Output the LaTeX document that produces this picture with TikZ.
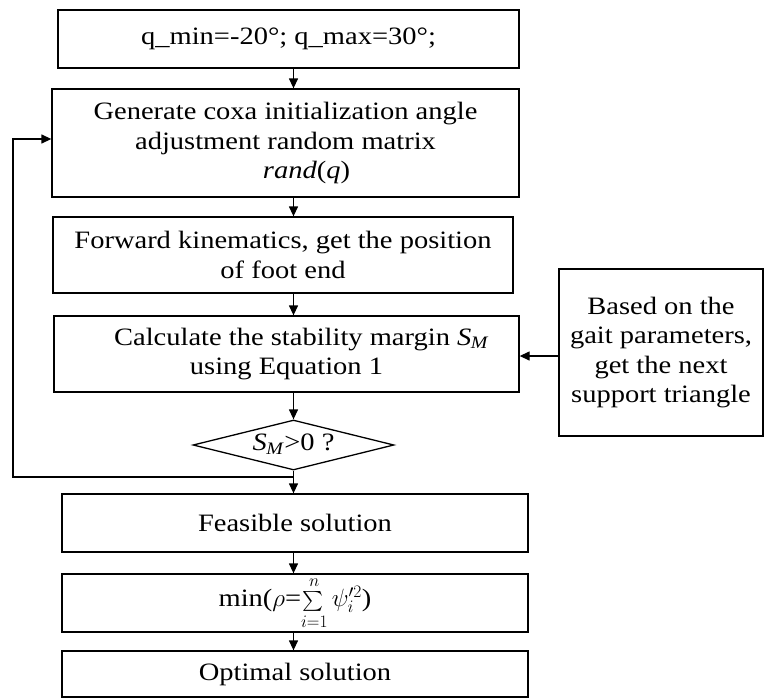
\RequirePackage{fix-cm}
\documentclass[tikz,border=0pt]{standalone}
\usepackage{amsmath}
\usepackage{fontspec}
\setmainfont[FakeStretch=1.14]{Liberation Serif}
\usetikzlibrary{arrows.meta,shapes.geometric}
\newcommand{\SM}{\textit{S}\textsubscript{\kern-0.5pt\textit{M}}}
\begin{document}
\begin{tikzpicture}[x=1pt,y=-1pt,
  box/.style={draw,line width=1.3pt,inner sep=0pt,align=center,
    font=\fontsize{25}{29.5}\selectfont},
  arr/.style={line width=1.3pt,-{Triangle[length=10pt,width=9pt]}}]
\useasboundingbox (0,0) rectangle (764,697);
\node[box,minimum width=461pt,minimum height=58pt] (b1) at (288.5,39) {q\_min=-20°; q\_max=30°;};
\node[box,minimum width=467pt,minimum height=108pt] (b2) at (285.5,143)
  {Generate coxa initialization angle\\adjustment random matrix\\\hspace*{42pt}\textit{rand}(\textit{q})};
\node[box,minimum width=460pt,minimum height=76pt] (b3) at (283,255)
  {Forward kinematics, get the position\\of foot end};
\node[box,minimum width=465pt,minimum height=76pt] (b4) at (286.5,354)
  {\hspace*{30pt}Calculate the stability margin \SM\\using Equation 1};
\node[draw,line width=1.3pt,diamond,aspect=4,inner sep=0pt,minimum width=201pt,minimum height=50pt] (d) at (293.5,445) {};
\node[font=\fontsize{25}{29.5}\selectfont] (dt) at (293.5,444) {\SM>0 ?};
\node[box,minimum width=466pt,minimum height=58pt] (b5) at (295,523) {Feasible solution};
\node[box,minimum width=466pt,minimum height=58pt] (b6) at (295,603)
  {min($\rho$=$\mathop{\scalebox{0.8}{$\sum$}}\limits_{i=1}^{n}\psi_i'^{2}$)};
\node[box,minimum width=466pt,minimum height=46pt] (b7) at (295,674) {Optimal solution};
\node[box,minimum width=204pt,minimum height=167pt] (r) at (661,352.5)
  {Based on the\\gait parameters,\\get the next\\support triangle};
\coordinate (j) at (293.5,477);
\coordinate (lp) at (13,139);
\coordinate (ra) at (559,356);
\draw[arr] (b1.south -| j) -- (b2.north -| j);
\draw[arr] (b2.south -| j) -- (b3.north -| j);
\draw[arr] (b3.south -| j) -- (b4.north -| j);
\draw[arr] (b4.south -| j) -- (d.north);
\draw[arr] (d.south) -- (b5.north -| j);
\draw[arr] (b5.south -| j) -- (b6.north -| j);
\draw[arr] (b6.south -| j) -- (b7.north -| j);
\draw[arr] (j) -| (lp) -- (b2.west |- lp);
\draw[arr] (ra) -- (b4.east |- ra);
\end{tikzpicture}
\end{document}
